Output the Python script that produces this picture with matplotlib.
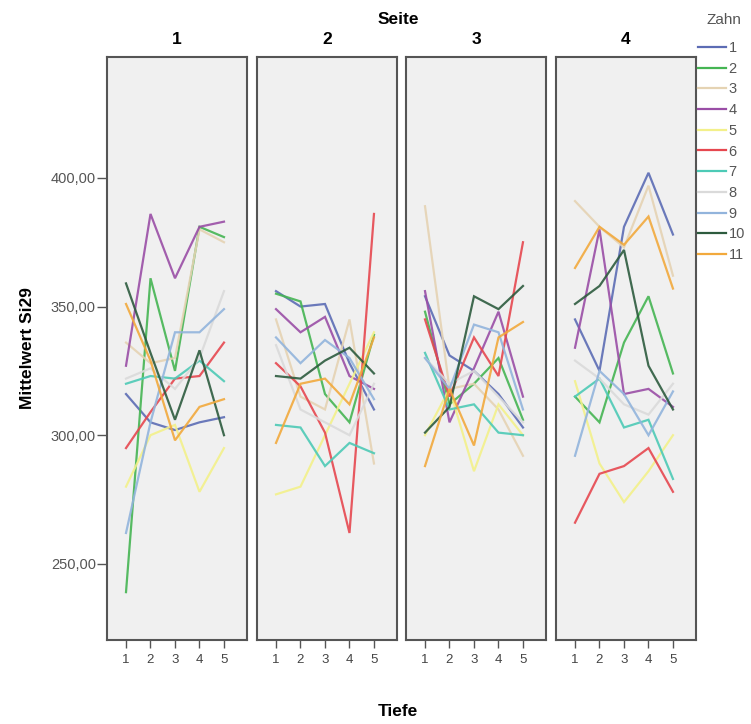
import matplotlib
matplotlib.use("Agg")
import matplotlib.pyplot as plt

plt.rcParams['font.family'] = ['Liberation Sans', 'DejaVu Sans']

tiefe = [1, 2, 3, 4, 5]
seiten = ["1", "2", "3", "4"]
zahn = ["1", "2", "3", "4", "5", "6", "7", "8", "9", "10", "11"]
y_ticks = [250, 300, 350, 400]
y_tick_labels = ["250,00", "300,00", "350,00", "400,00"]

# values[seite][zahn] -> 5 values over Tiefe 1..5
seite1 = {
    "1": [316, 305, 302, 305, 307],
    "2": [239, 361, 325, 381, 377],
    "3": [336, 328, 330, 380, 375],
    "4": [327, 386, 361, 381, 383],
    "5": [280, 300, 304, 278, 295],
    "6": [295, 309, 322, 323, 336],
    "7": [320, 323, 322, 329, 321],
    "8": [322, 326, 318, 330, 356],
    "9": [262, 305, 340, 340, 349],
    "10": [359, 332, 306, 333, 300],
    "11": [351, 329, 298, 311, 314],
}
seite2 = {
    "1": [356, 350, 351, 328, 310],
    "2": [355, 352, 316, 305, 339],
    "3": [345, 315, 310, 345, 289],
    "4": [349, 340, 346, 323, 318],
    "5": [277, 280, 300, 320, 340],
    "6": [328, 319, 301, 262, 386],
    "7": [304, 303, 288, 297, 293],
    "8": [335, 310, 305, 300, 320],
    "9": [338, 328, 337, 330, 314],
    "10": [323, 322, 329, 334, 324],
    "11": [297, 320, 322, 312, 338],
}
seite3 = {
    "1": [354, 331, 325, 316, 303],
    "2": [348, 312, 320, 330, 306],
    "3": [389, 318, 320, 310, 292],
    "4": [356, 305, 326, 348, 315],
    "5": [300, 318, 286, 312, 300],
    "6": [345, 315, 338, 323, 375],
    "7": [332, 310, 312, 301, 300],
    "8": [330, 320, 325, 315, 305],
    "9": [330, 318, 343, 340, 310],
    "10": [301, 311, 354, 349, 358],
    "11": [288, 318, 296, 338, 344],
}
seite4 = {
    "1": [345, 325, 381, 402, 378],
    "2": [315, 305, 336, 354, 324],
    "3": [391, 381, 373, 397, 362],
    "4": [334, 380, 316, 318, 311],
    "5": [321, 289, 274, 286, 300],
    "6": [266, 285, 288, 295, 278],
    "7": [315, 322, 303, 306, 283],
    "8": [329, 322, 312, 308, 320],
    "9": [292, 325, 316, 300, 317],
    "10": [351, 358, 372, 327, 310],
    "11": [365, 381, 374, 385, 357],
}
data = [seite1, seite2, seite3, seite4]

colors = {
    "1": "#5c6cb4", "2": "#45b553", "3": "#e5d3b3", "4": "#9a4ea6",
    "5": "#f3f08a", "6": "#e6474f", "7": "#4dcab6", "8": "#dadada",
    "9": "#92b4dc", "10": "#2d5b3e", "11": "#f2a93c",
}

W, H = 751, 724
fig = plt.figure(figsize=(W / 100, H / 100), dpi=100)
fig.patch.set_facecolor("white")

lefts = [107, 257, 406, 556]
pw = 140
top_px, bot_px = 57, 640
axes = []
for i, lp in enumerate(lefts):
    ax = fig.add_axes([lp / W, 1 - bot_px / H, pw / W, (bot_px - top_px) / H])
    ax.set_facecolor("#f0f0f0")
    for z in zahn:
        ax.plot(tiefe, data[i][z], color=colors[z], lw=1.6, alpha=0.9,
                solid_joinstyle="miter")
    ax.set_xlim(0.224, 5.94)
    ax.set_ylim(220.4, 447.0)
    ax.set_xticks(tiefe)
    ax.set_xticklabels([str(t) for t in tiefe], fontsize=9.5, color="#444444")
    for s in ax.spines.values():
        s.set_color("#555555")
        s.set_linewidth(1.5)
    ax.tick_params(axis="x", length=6, width=1, color="#555555", pad=4)
    if i == 0:
        ax.set_yticks(y_ticks)
        ax.set_yticklabels(y_tick_labels, fontsize=10.5, color="#555555")
        ax.tick_params(axis="y", length=7, width=1, color="#555555", pad=1)
    else:
        ax.set_yticks([])
    fig.text((lp + pw / 2) / W, 1 - 40 / H, seiten[i], ha="center",
             va="center", fontsize=12.5, fontweight="bold")
    axes.append(ax)

fig.text(28 / W, 1 - 348 / H, "Mittelwert Si29", ha="center", va="center",
         rotation=90, fontsize=12.5, fontweight="bold")
fig.text(398 / W, 1 - 19 / H, "Seite", ha="center", va="center",
         fontsize=12.5, fontweight="bold")
fig.text(398 / W, 1 - 712 / H, "Tiefe", ha="center", va="center",
         fontsize=12.5, fontweight="bold")

# legend
fig.text(724 / W, 1 - 20 / H, "Zahn", ha="center", va="center",
         fontsize=11, color="#555555")
handles = [plt.Line2D([], [], color=colors[z], lw=1.6) for z in zahn]
leg = fig.legend(handles, zahn, loc="upper left",
                 bbox_to_anchor=(698 / W, 1 - 41 / H), frameon=False,
                 fontsize=10.5, handlelength=1.9, handletextpad=0.2,
                 labelspacing=0.46, borderaxespad=0, borderpad=0)
for t in leg.get_texts():
    t.set_color("#555555")

fig.savefig("out.png", dpi=100, facecolor="white")
